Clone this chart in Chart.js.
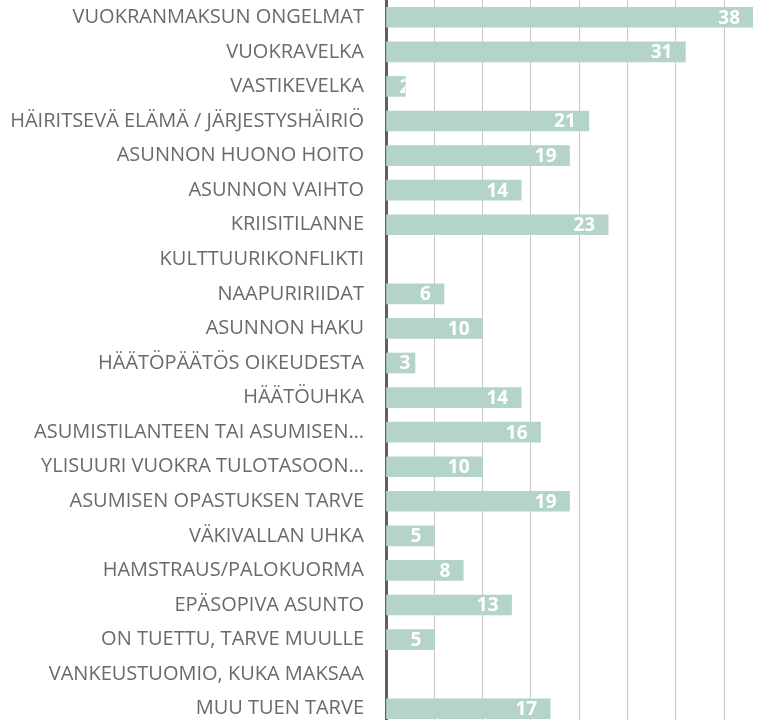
<!DOCTYPE html>
<html>
<head>
<meta charset="utf-8">
<script src="https://cdn.jsdelivr.net/npm/chart.js@4"></script>
<style>
  html, body { margin: 0; padding: 0; background: #fff; overflow: hidden; }
  #wrap { width: 760px; height: 726px; position: relative; }
</style>
</head>
<body>
<div id="wrap"><canvas id="chart"></canvas></div>
<script>
const categories = [
  "VUOKRANMAKSUN ONGELMAT",
  "VUOKRAVELKA",
  "VASTIKEVELKA",
  "HÄIRITSEVÄ ELÄMÄ / JÄRJESTYSHÄIRIÖ",
  "ASUNNON HUONO HOITO",
  "ASUNNON VAIHTO",
  "KRIISITILANNE",
  "KULTTUURIKONFLIKTI",
  "NAAPURIRIIDAT",
  "ASUNNON HAKU",
  "HÄÄTÖPÄÄTÖS OIKEUDESTA",
  "HÄÄTÖUHKA",
  "ASUMISTILANTEEN TAI ASUMISEN…",
  "YLISUURI VUOKRA TULOTASOON…",
  "ASUMISEN OPASTUKSEN TARVE",
  "VÄKIVALLAN UHKA",
  "HAMSTRAUS/PALOKUORMA",
  "EPÄSOPIVA ASUNTO",
  "ON TUETTU, TARVE MUULLE",
  "VANKEUSTUOMIO, KUKA MAKSAA",
  "MUU TUEN TARVE"
];
const counts = [38, 31, 2, 21, 19, 14, 23, null, 6, 10, 3, 14, 16, 10, 19, 5, 8, 13, 5, null, 17];
const xMax = 38;
const xStep = 5;

// value labels inside the bar end, clipped to the bar
const barLabels = {
  id: "barLabels",
  afterDatasetsDraw(chart){
    const ctx = chart.ctx;
    const meta = chart.getDatasetMeta(0);
    ctx.save();
    ctx.font = "bold 19px 'Open Sans'";
    ctx.fillStyle = "#ffffff";
    ctx.textBaseline = "middle";
    ctx.textAlign = "left";
    meta.data.forEach((bar, i) => {
      const v = counts[i];
      if(v == null) return;
      const txt = String(v);
      const w = ctx.measureText(txt).width;
      const left = Math.min(bar.base, bar.x);
      const right = Math.max(bar.base, bar.x);
      let tx = Math.max(right - 13 - w, left + 13);
      ctx.save();
      ctx.beginPath();
      ctx.rect(left, bar.y - bar.height/2, right - left, bar.height);
      ctx.clip();
      ctx.fillText(txt, tx, bar.y + 1);
      ctx.restore();
    });
    ctx.restore();
  }
};

new Chart(document.getElementById("chart"), {
  type: "bar",
  data: {
    labels: categories,
    datasets: [{
      data: counts,
      backgroundColor: "#b4d3c9",
      borderWidth: 0,
      barThickness: 20
    }]
  },
  options: {
    indexAxis: "y",
    responsive: true,
    maintainAspectRatio: false,
    animation: false,
    layout: { padding: { top: 0, right: 7, bottom: 0, left: 0 } },
    plugins: {
      legend: { display: false },
      tooltip: { enabled: false }
    },
    scales: {
      x: {
        min: 0,
        max: xMax,
        ticks: { display: false, stepSize: xStep },
        border: { display: false },
        grid: {
          drawTicks: false,
          lineWidth: 1,
          color: c => (c.tick && c.tick.value % xStep === 0 && c.tick.value > 0) ? "#c8c8c8" : "rgba(0,0,0,0)"
        },
        afterFit: s => { s.height = 0; s.paddingLeft = 0; s.paddingRight = 0; }
      },
      y: {
        ticks: {
          color: "#6a6a6a",
          padding: 22,
          autoSkip: false,
          font: { family: "'Open Sans'", size: 20 }
        },
        grid: { display: false, drawTicks: false },
        border: { display: true, color: "#606060", width: 3 },
        afterFit: s => { s.width = 386; s.paddingTop = 0; s.paddingBottom = 0; }
      }
    }
  },
  plugins: [barLabels]
});
</script>
</body>
</html>
